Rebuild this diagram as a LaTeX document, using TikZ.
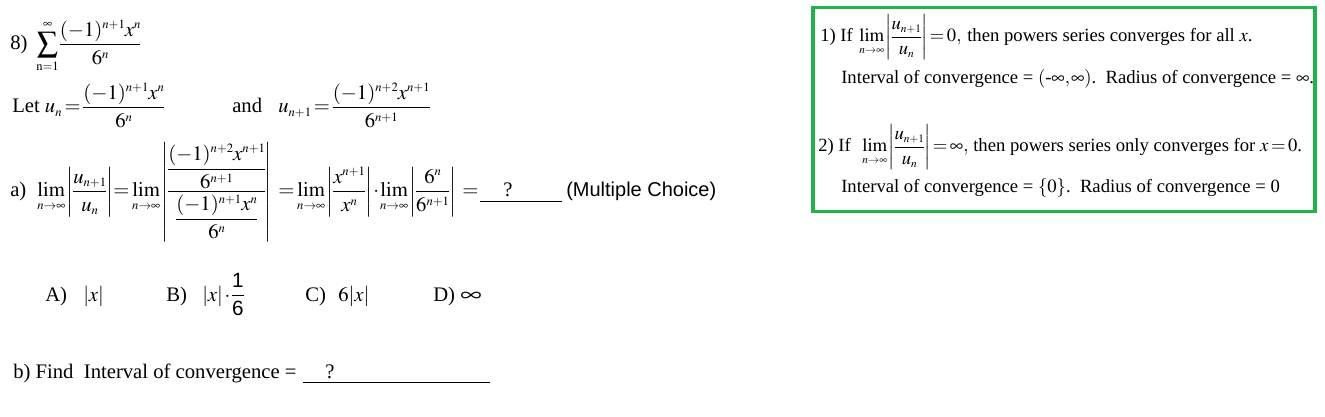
\documentclass[tikz,border=0pt]{standalone}
\usepackage{amsmath}
\usepackage{mathptmx}
\usepackage{graphicx}
\usepackage[no-math]{fontspec}
\setmainfont{Liberation Serif}
\newfontfamily\arialfont{Liberation Sans}
\definecolor{boxgreen}{RGB}{34,177,76}
\DeclareMathSizes{15.5}{15.5}{9.5}{7}
\DeclareMathSizes{14}{14}{8.5}{6.5}
\thickmuskip=2.5mu
\medmuskip=1.5mu
\thinmuskip=1mu
\nulldelimiterspace=0pt
\scriptspace=0pt
\newcommand{\wideinf}{\scalebox{1.45}[1.1]{$\infty$}}
\tikzset{
  txt/.style={anchor=base west, inner sep=0pt, font=\fontsize{15.5}{18}\selectfont},
  boxtxt/.style={anchor=base west, inner sep=0pt, font=\fontsize{14}{16}\selectfont},
  sanstxt/.style={anchor=base west, inner sep=0pt, font=\arialfont\fontsize{15}{18}\selectfont},
  uline/.style={line width=0.75pt},
  greenbox/.style={draw=boxgreen, line width=2.4pt}
}
\begin{document}
\begin{tikzpicture}[x=0.75pt,y=-0.75pt]
\useasboundingbox[fill=white] (0,0) rectangle (1325,417);
% problem 8
\node[txt] (p8) at (10,50) {8)};
\node[txt] (sum) at (36,50) {$\displaystyle\sum_{\mathrm{n=1}}^{\infty}\frac{(-1)^{n+1}x^{n}}{6^{n}}$};
% Let line
\node[txt] (let) at (12,113) {Let $\displaystyle u_n=\frac{(-1)^{n+1}x^{n}}{6^{n}}$};
\node[txt] (and) at (232,113) {and};
\node[txt] (un1) at (278,113) {$\displaystyle u_{n+1}=\frac{(-1)^{n+2}x^{n+1}}{6^{n+1}}$};
% a) line
\node[txt] (a) at (10,197) {a)};
\node[txt] (a1) at (37,197) {$\displaystyle\lim_{n\to\infty}\left|\frac{u_{n+1}}{u_n}\right|$};
\node[txt] (a2) at (113,197) {$\displaystyle=\lim_{n\to\infty}\left|\frac{\dfrac{(-1)^{n+2}x^{n+1}}{6^{n+1}}}{\dfrac{(-1)^{n+1}x^{n}}{6^{n}}}\right|$};
\node[txt] (a3) at (278,197) {$\displaystyle=\lim_{n\to\infty}\left|\frac{x^{n+1}}{x^{n}}\right|$};
\node[txt] (a4) at (373,197) {$\displaystyle\cdot\lim_{n\to\infty}\left|\frac{6^{n}}{6^{n+1}}\right|$};
\node[txt] (a5) at (462,197) {$=$};
\coordinate (ua1) at (480,202);
\coordinate (ua2) at (562,202);
\draw[uline] (ua1) -- (ua2);
\node[txt] (qa) at (503,197) {?};
\node[sanstxt] (mc) at (566,197) {(Multiple Choice)};
% choices
\node[txt] (cA) at (45,301) {A)};
\node[txt] (cAv) at (83,301) {$|x|$};
\node[txt] (cB) at (166,301) {B)};
\node[txt] (cBv) at (202,301) {$|x|\cdot\dfrac{\text{\arialfont 1}}{\text{\arialfont 6}}$};
\node[txt] (cC) at (305,301) {C)};
\node[txt] (cCv) at (338,301) {$6|x|$};
\node[txt] (cD) at (433,301) {D)};
\node[txt] (cDv) at (460,301) {\wideinf};
% b) line
\node[txt] (b) at (13,378) {b) Find\ \ Interval of convergence =};
\coordinate (ub1) at (303,382);
\coordinate (ub2) at (490,382);
\draw[uline] (ub1) -- (ub2);
\node[txt] (qb) at (325,378) {?};
% green box
\coordinate (bx1) at (813,7.5);
\coordinate (bx2) at (1315,211.5);
\draw[greenbox] (bx1) rectangle (bx2);
\node[boxtxt] (r1) at (820,42) {1) If};
\node[boxtxt] (r1m) at (859,42) {$\displaystyle\lim_{n\to\infty}\left|\frac{u_{n+1}}{u_n}\right|=0,$};
\node[boxtxt] (r1t) at (967,42) {then powers series converges for all $x$.};
\node[boxtxt] (r2) at (841,84) {Interval of convergence = $\left(\text{-}\infty,\infty\right)$.\ \ Radius of convergence = $\infty$.};
\node[boxtxt] (r3) at (818,152) {2) If};
\node[boxtxt] (r3m) at (862,152) {$\displaystyle\lim_{n\to\infty}\left|\frac{u_{n+1}}{u_n}\right|=\infty,$};
\node[boxtxt] (r3t) at (973,152) {then powers series only converges for $x=0$.};
\node[boxtxt] (r4) at (841,193) {Interval of convergence = $\{0\}$.\ \ Radius of convergence = 0};
\end{tikzpicture}
\end{document}
